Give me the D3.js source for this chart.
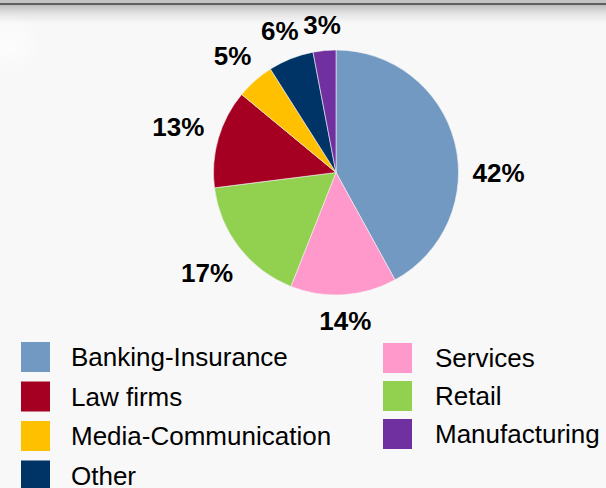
<!DOCTYPE html>
<html>
<head>
<meta charset="utf-8">
<script src="https://cdn.jsdelivr.net/npm/d3@7"></script>
<style>
  html, body { margin: 0; padding: 0; background: #f8f8f8; }
  svg { display: block; }
</style>
</head>
<body>
<svg id="chart" width="606" height="488"></svg>
<script>
// Sectors, clockwise from twelve o'clock
const sectors = ["Banking-Insurance", "Services", "Retail", "Law firms", "Media-Communication", "Other", "Manufacturing"];
const shares = [42, 14, 17, 13, 5, 6, 3];
const sectorColors = ["#7199c1", "#ff99cc", "#92d050", "#a50021", "#ffc000", "#003366", "#7030a0"];

// Legend reading order (two columns)
const legendLeft = ["Banking-Insurance", "Law firms", "Media-Communication", "Other"];
const legendRight = ["Services", "Retail", "Manufacturing"];

const W = 606, H = 488;
const svg = d3.select("#chart");
const defs = svg.append("defs");

// page background with the shaded header edge
svg.append("rect").attr("width", W).attr("height", H).attr("fill", "#f8f8f8");

const shade = defs.append("linearGradient").attr("id", "topShade")
  .attr("x1", 0).attr("y1", 0).attr("x2", 0).attr("y2", 1);
shade.append("stop").attr("offset", "0%").attr("stop-color", "#bdbdbd");
shade.append("stop").attr("offset", "45%").attr("stop-color", "#e2e2e2");
shade.append("stop").attr("offset", "100%").attr("stop-color", "#f8f8f8");

const glow = defs.append("radialGradient").attr("id", "cornerGlow");
glow.append("stop").attr("offset", "0%").attr("stop-color", "#ffffff").attr("stop-opacity", 0.7);
glow.append("stop").attr("offset", "100%").attr("stop-color", "#ffffff").attr("stop-opacity", 0);

svg.append("rect").attr("x", 0).attr("y", 5).attr("width", W).attr("height", 18).attr("fill", "url(#topShade)");
svg.append("ellipse").attr("cx", 8).attr("cy", 45).attr("rx", 34).attr("ry", 32).attr("fill", "url(#cornerGlow)");
svg.append("rect").attr("x", 0).attr("y", 0).attr("width", W).attr("height", 3).attr("fill", "#c2c2c2");
svg.append("rect").attr("x", 0).attr("y", 3).attr("width", W).attr("height", 2).attr("fill", "#5e5e5e");

// pie
const cx = 336, cy = 172.5, radius = 122.5;
const color = d3.scaleOrdinal().domain(sectors).range(sectorColors);
const pie = d3.pie().sort(null).value(d => d.value);
const arcs = pie(sectors.map((s, i) => ({ sector: s, value: shares[i] })));
const arc = d3.arc().innerRadius(0).outerRadius(radius);

const g = svg.append("g").attr("transform", `translate(${cx},${cy})`);
g.selectAll("path.slice").data(arcs).join("path")
  .attr("class", "slice")
  .attr("d", arc)
  .attr("fill", d => color(d.data.sector))
  .attr("stroke", "#f4f4f4")
  .attr("stroke-width", 0.6);

// percentage labels just outside each slice; a slice that spans the
// three o'clock direction gets its label level with the centre
const labelFont = "bold 26px 'Liberation Sans', Arial, sans-serif";
const ctx = document.createElement("canvas").getContext("2d");
ctx.font = labelFont;
const labelGap = 14, labelH = 20;
g.selectAll("text.pct").data(arcs).join("text")
  .attr("class", "pct")
  .each(function (d) {
    const txt = d.data.value + "%";
    const w = ctx.measureText(txt).width;
    let a = (d.startAngle + d.endAngle) / 2;
    if (d.startAngle < Math.PI / 2 && d.endAngle > Math.PI / 2) a = Math.PI / 2;
    const ux = Math.sin(a), uy = -Math.cos(a);
    const r = radius + labelGap + (w / 2) * Math.abs(ux) + (labelH / 2) * Math.abs(uy);
    d3.select(this)
      .attr("x", r * ux)
      .attr("y", r * uy)
      .attr("dy", "0.36em")
      .text(txt);
  })
  .attr("text-anchor", "middle")
  .style("font", labelFont)
  .attr("fill", "#000");

// legend
const legendFont = "26px 'Liberation Sans', Arial, sans-serif";
function drawColumn(items, swatchX, textX, firstBaseline, step) {
  const col = svg.append("g");
  items.forEach((name, i) => {
    const base = firstBaseline + i * step;
    col.append("rect")
      .attr("x", swatchX).attr("y", base - 24)
      .attr("width", 29).attr("height", 30)
      .attr("fill", color(name));
    col.append("text")
      .attr("x", textX).attr("y", base)
      .style("font", legendFont)
      .attr("fill", "#000")
      .text(name);
  });
}
drawColumn(legendLeft, 21, 71, 366, 39.5);
drawColumn(legendRight, 383, 435, 367, 38);
</script>
</body>
</html>
